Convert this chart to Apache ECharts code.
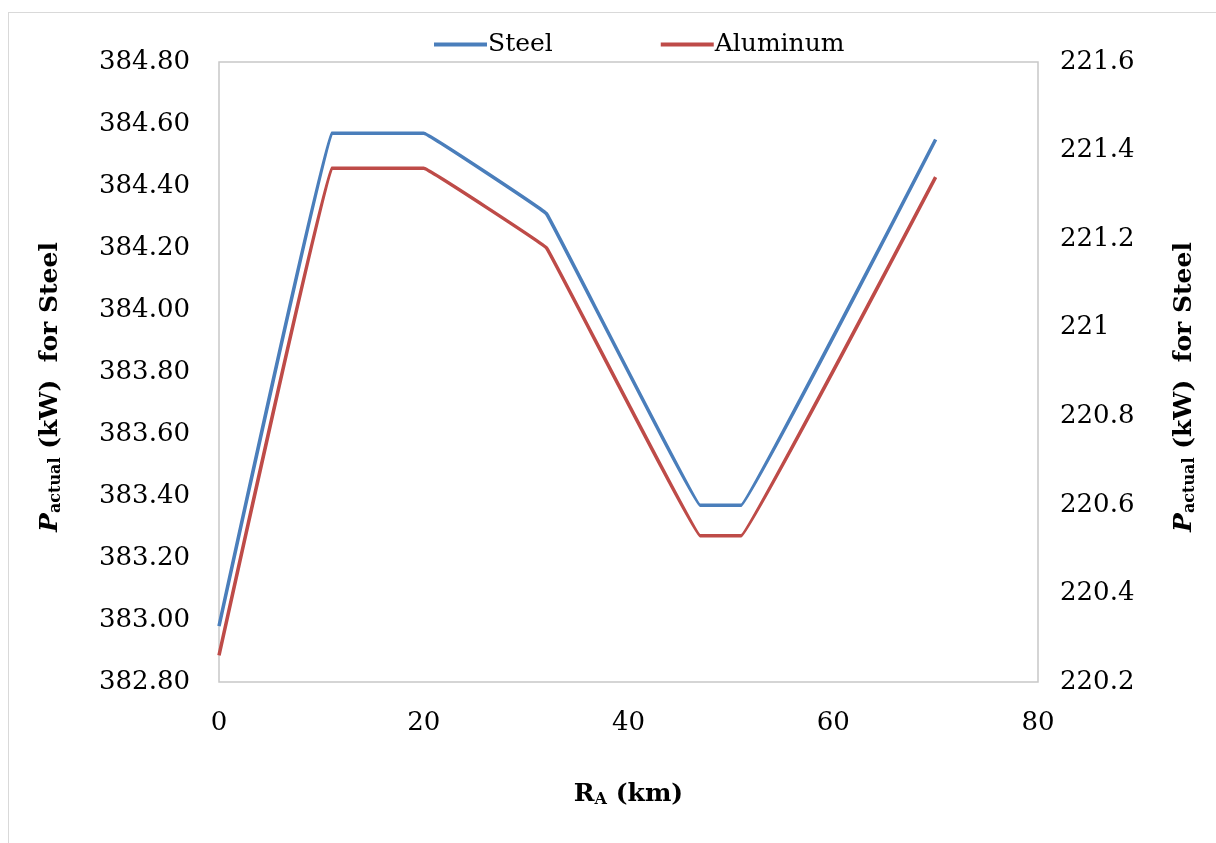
<!DOCTYPE html>
<html>
<head>
<meta charset="utf-8">
<script src="https://cdn.jsdelivr.net/npm/echarts@6/dist/echarts.min.js"></script>
<style>
  html, body { margin: 0; padding: 0; background: #fff; }
  #frame { position: absolute; left: 8px; top: 12px; width: 1220px; height: 840px; border: 1px solid #d9d9d9; box-sizing: border-box; }
  #main { position: absolute; left: 0; top: 0; width: 1216px; height: 843px; }
</style>
</head>
<body>
<div id="frame"></div>
<div id="main"></div>
<script>
// 距离 R_A (km)
var raData = [0, 11, 20, 32, 47, 51, 70];
// 钢 (左轴)
var steelData = [382.98, 384.57, 384.57, 384.31, 383.37, 383.37, 384.55];
// 铝 (右轴)
var aluminumData = [220.26, 221.36, 221.36, 221.18, 220.53, 220.53, 221.34];
var seriesNames = ['Steel', 'Aluminum'];

var serif = '"DejaVu Serif", serif';

function pairs(xs, ys) {
    var out = [];
    for (var i = 0; i < xs.length; i++) out.push([xs[i], ys[i]]);
    return out;
}

var myChart = echarts.init(document.getElementById('main'), null, { renderer: 'canvas' });

// y轴标题(带下标)
var yNameRich = {
    p: { fontFamily: serif, fontSize: 25, fontWeight: 'bold', fontStyle: 'italic', color: '#000' },
    sub: { fontFamily: serif, fontSize: 16, fontWeight: 'bold', color: '#000', padding: [12, 0, 0, 0] },
    t: { fontFamily: serif, fontSize: 25, fontWeight: 'bold', color: '#000', padding: [0, 30, 0, 0] }
};
var yName = '{p|P}{sub|actual}{t| (kW)  for Steel}';

var option = {
    animation: false,
    color: ['#4a7ebb', '#be4b48'],
    legend: {
        data: seriesNames,
        left: 429,
        top: 27,
        icon: 'rect',
        itemWidth: 53,
        itemHeight: 4,
        itemGap: 108,
        textStyle: { fontFamily: serif, fontSize: 25, color: '#000', padding: [0, 0, 0, -4] }
    },
    grid: {
        left: 219,
        top: 62,
        right: 178,
        bottom: 161,
        show: true,
        borderColor: '#c8c8c8',
        borderWidth: 1.5,
        containLabel: false,
        outerBoundsMode: 'none'
    },
    xAxis: {
        type: 'value',
        min: 0,
        max: 80,
        interval: 20,
        axisLine: { show: false },
        axisTick: { show: false },
        splitLine: { show: false },
        axisLabel: { fontFamily: serif, fontSize: 26, color: '#000', margin: 28 },
        name: '{r|R}{a|A}{k| (km)}',
        nameLocation: 'middle',
        nameGap: 98,
        nameTextStyle: {
            rich: {
                r: { fontFamily: serif, fontSize: 25, fontWeight: 'bold', color: '#000' },
                a: { fontFamily: serif, fontSize: 16, fontWeight: 'bold', color: '#000', padding: [12, 0, 0, 0] },
                k: { fontFamily: serif, fontSize: 25, fontWeight: 'bold', color: '#000' }
            }
        }
    },
    yAxis: [
        {
            type: 'value',
            position: 'left',
            min: 382.8,
            max: 384.8,
            interval: 0.2,
            axisLine: { show: false },
            axisTick: { show: false },
            splitLine: { show: false },
            axisLabel: {
                fontFamily: serif, fontSize: 26, color: '#000', margin: 29,
                formatter: function (v) { return v.toFixed(2); }
            },
            name: yName,
            nameLocation: 'middle',
            nameRotate: 90,
            nameGap: 155,
            nameTextStyle: { rich: yNameRich }
        },
        {
            type: 'value',
            position: 'right',
            min: 220.2,
            max: 221.6,
            interval: 0.2,
            axisLine: { show: false },
            axisTick: { show: false },
            splitLine: { show: false },
            axisLabel: {
                fontFamily: serif, fontSize: 26, color: '#000', margin: 22,
                formatter: function (v) { return String(parseFloat(v.toFixed(1))); }
            },
            name: yName,
            nameLocation: 'middle',
            nameRotate: 90,
            nameGap: 132,
            nameTextStyle: { rich: yNameRich }
        }
    ],
    series: [
        {
            name: seriesNames[0],
            type: 'line',
            yAxisIndex: 0,
            data: pairs(raData, steelData),
            smooth: 0.03,
            symbol: 'none',
            lineStyle: { width: 3.5, color: '#4a7ebb' }
        },
        {
            name: seriesNames[1],
            type: 'line',
            yAxisIndex: 1,
            data: pairs(raData, aluminumData),
            smooth: 0.03,
            symbol: 'none',
            lineStyle: { width: 3.5, color: '#be4b48' }
        }
    ]
};

myChart.setOption(option);
window.addEventListener('resize', function () { myChart.resize(); });
</script>
</body>
</html>
